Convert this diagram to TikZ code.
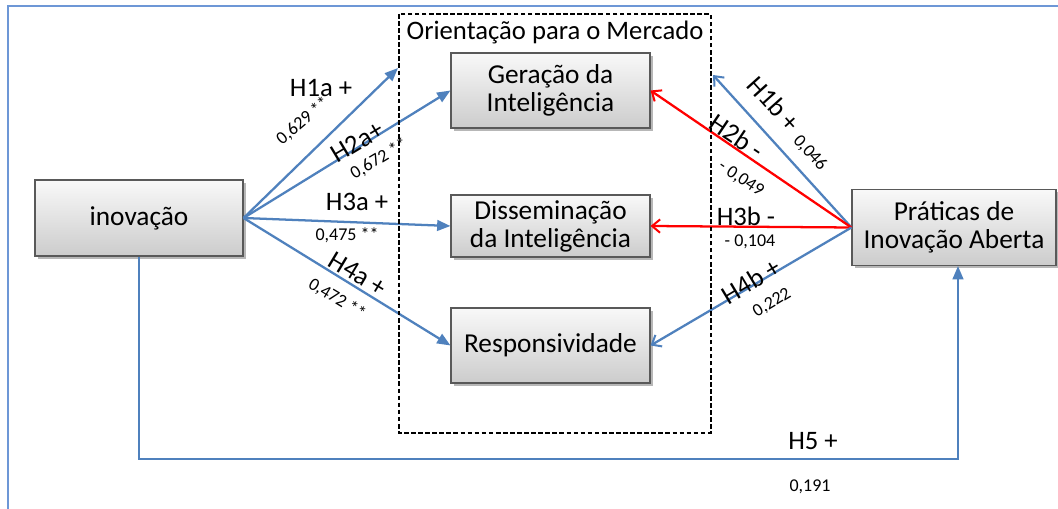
\documentclass[tikz,border=0pt]{standalone}
\usepackage{fontspec}
\setmainfont{Carlito}
\usetikzlibrary{shadows,arrows.meta}
\definecolor{ablue}{HTML}{4F81BD}
\definecolor{frameblue}{HTML}{6D97D6}
\definecolor{ared}{HTML}{FF0000}
\begin{document}
\begin{tikzpicture}[x=0.75pt,y=-0.75pt,
  box/.style={draw=black!65, line width=0.8pt, top color=gray!5, bottom color=gray!40,
    align=center, inner sep=2pt, font=\fontsize{20.5}{21}\selectfont,
    drop shadow={shadow xshift=2pt, shadow yshift=-2pt, opacity=0.4, fill=black!70}},
  hlab/.style={font=\fontsize{20}{22}\selectfont, inner sep=0pt},
  nlab/.style={font=\fontsize{13.5}{15}\selectfont, inner sep=0pt},
  barrow/.style={draw=ablue, line width=1.7pt, -{Triangle[length=10pt,width=8pt]}},
  oarrowb/.style={draw=ablue, line width=1.7pt, -{Straight Barb[length=6pt,width=10pt,line width=1.5pt]}},
  oarrowr/.style={draw=ared, line width=1.7pt, -{Straight Barb[length=6pt,width=10pt,line width=1.5pt]}},
  dbox/.style={draw=black, line width=1.3pt, dash pattern=on 3.5pt off 1.8pt}
]
\useasboundingbox (0,0) rectangle (1058,509);
\fill[white] (0,0) rectangle (1058,509);
\draw[frameblue, line width=1.6pt] (8,509) -- (8,6) -- (1058,6);

% boxes
\node[box, minimum width=156pt, minimum height=57pt] (ino) at (139,218) {inovação};
\node[box, minimum width=149.25pt, minimum height=56.25pt] (gera) at (550.5,90.5) {Geração da\\Inteligência};
\node[box, minimum width=149.25pt, minimum height=46.5pt] (diss) at (550.5,226) {Disseminação\\da Inteligência};
\node[box, minimum width=149.25pt, minimum height=56.25pt] (resp) at (550.5,345.5) {Responsividade};
\node[box, minimum width=153pt, minimum height=57pt] (prat) at (954,227.5) {Práticas de\\Inovação Aberta};

\coordinate (h1atip) at (398,68);
\coordinate (h1btip) at (713,75);
\coordinate (h5y) at (0,459);

% left arrows
\draw[barrow] (ino.east) -- (h1atip);
\draw[barrow] (ino.east) -- (gera.west);
\draw[barrow] (ino.east) -- (diss.west);
\draw[barrow] (ino.east) -- (resp.west);
% right arrows
\draw[oarrowb] (prat.west) -- (h1btip);
\draw[oarrowr] (prat.west) -- (gera.east);
\draw[oarrowr] (prat.west) -- (diss.east);
\draw[oarrowb] (prat.west) -- (resp.east);
% H5
\draw[barrow] (ino.south) -- (ino.south |- h5y) -| ([xshift=3pt]prat.south);

% dashed group
\draw[dbox] (399,14) rectangle (711,433);
\node[hlab] (om) at (555,32) {Orientação para o Mercado};

% labels left
\node[hlab] (l1a) at (321,88) {H1a +};
\node[nlab, rotate=40] (n1a) at (303,121) {0,629 **};
\node[hlab, rotate=31] (l2a) at (357,142) {H2a+};
\node[nlab, rotate=31] (n2a) at (379,159) {0,672 **};
\node[hlab] (l3a) at (357,202) {H3a +};
\node[nlab] (n3a) at (347,235) {0,475 **};
\node[hlab, rotate=-31] (l4a) at (358,274) {H4a +};
\node[nlab, rotate=-31] (n4a) at (337,299) {0,472 **};
% labels right
\node[hlab, rotate=-48] (l1b) at (774,104) {H1b +};
\node[nlab, rotate=-48] (n1b) at (810,153) {0,046};
\node[hlab, rotate=-34] (l2b) at (737,136) {H2b -};
\node[nlab, rotate=-34] (n2b) at (741,179) {- 0,049};
\node[hlab] (l3b) at (746,216) {H3b -};
\node[nlab] (n3b) at (750,242) {- 0,104};
\node[hlab, rotate=31] (l4b) at (751,281) {H4b +};
\node[nlab, rotate=31] (n4b) at (772,303) {0,222};
% H5
\node[hlab] (l5) at (813,441) {H5 +};
\node[nlab] (n5) at (810,487) {0,191};
\end{tikzpicture}
\end{document}
